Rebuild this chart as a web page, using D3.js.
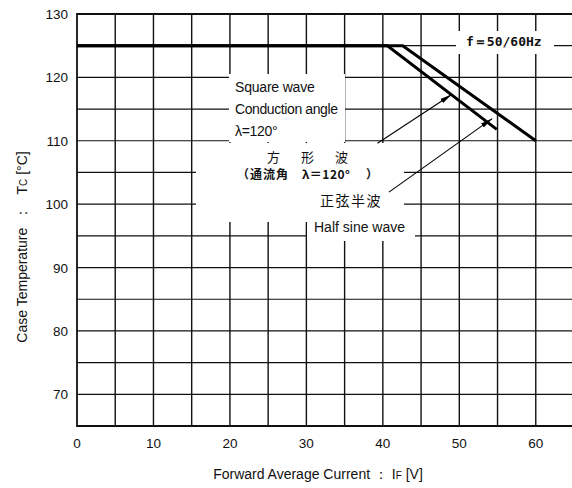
<!DOCTYPE html>
<html>
<head>
<meta charset="utf-8">
<script src="https://cdn.jsdelivr.net/npm/d3@7"></script>
<style>
  body { margin: 0; background: #fff; }
  svg text { font-family: "Liberation Sans", Arial, sans-serif; fill: #111; }
</style>
</head>
<body>
<div id="chart"></div>
<script>
// data
const xTicks = [0, 10, 20, 30, 40, 50, 60];
const yTicks = [70, 80, 90, 100, 110, 120, 130];
const gridX = [5, 10, 15, 20, 25, 30, 35, 40, 45, 50, 55, 60];
const gridY = [70, 75, 80, 85, 90, 95, 100, 105, 110, 115, 120, 125];

const squareCurrent = [0, 40.6, 54.9];
const squareTemp = [125, 125, 111.8];
const sineCurrent = [0, 42.6, 60];
const sineTemp = [125, 125, 110];

// pointer lines from labels to curves [x1, t1, x2, t2]
const squarePointer = [39.3, 109.6, 49.0, 117.3];
const sinePointer = [40.8, 101.9, 54.3, 113.5];

const width = 572, height = 488;
const svg = d3.select("#chart").append("svg")
  .attr("width", width)
  .attr("height", height);

const x = d3.scaleLinear().domain([0, 65]).range([77, 574]);
const y = d3.scaleLinear().domain([65, 130]).range([426, 14]);

// grid
svg.append("g").selectAll("line")
  .data(gridX)
  .enter().append("line")
  .attr("x1", d => x(d)).attr("x2", d => x(d))
  .attr("y1", y(130)).attr("y2", y(65))
  .attr("stroke", "#111").attr("stroke-width", 1.4);

svg.append("g").selectAll("line")
  .data(gridY)
  .enter().append("line")
  .attr("x1", x(0)).attr("x2", width)
  .attr("y1", d => y(d)).attr("y2", d => y(d))
  .attr("stroke", "#111").attr("stroke-width", 1.2);

// frame
svg.append("path")
  .attr("d", `M${width},${y(130)}H${x(0)}V${y(65)}H${width}`)
  .attr("fill", "none").attr("stroke", "#111").attr("stroke-width", 1.8);

// white patches behind the annotations (as in the scan)
const patches = [
  [229, 74, 116, 68],
  [196, 143, 208, 79],
  [307, 210, 108, 31],
  [456, 31, 98, 23]
];
svg.append("g").selectAll("rect")
  .data(patches)
  .enter().append("rect")
  .attr("x", d => d[0]).attr("y", d => d[1])
  .attr("width", d => d[2]).attr("height", d => d[3])
  .attr("fill", "#fff");

// curves
const line = d3.line().x(d => x(d[0])).y(d => y(d[1]));
svg.append("path")
  .attr("d", line(squareCurrent.map((c, i) => [c, squareTemp[i]])))
  .attr("fill", "none").attr("stroke", "#000").attr("stroke-width", 3);
svg.append("path")
  .attr("d", line(sineCurrent.map((c, i) => [c, sineTemp[i]])))
  .attr("fill", "none").attr("stroke", "#000").attr("stroke-width", 3);

// arrow marker
svg.append("defs").append("marker")
  .attr("id", "arr")
  .attr("viewBox", "0 0 12 6")
  .attr("refX", 12).attr("refY", 3)
  .attr("markerWidth", 12).attr("markerHeight", 6)
  .attr("markerUnits", "userSpaceOnUse")
  .attr("orient", "auto")
  .append("path")
  .attr("d", "M0,0.5L12,3L0,5.5Z")
  .attr("fill", "#000");

[squarePointer, sinePointer].forEach(p => {
  svg.append("line")
    .attr("x1", x(p[0])).attr("y1", y(p[1]))
    .attr("x2", x(p[2])).attr("y2", y(p[3]))
    .attr("stroke", "#000").attr("stroke-width", 1.1)
    .attr("marker-end", "url(#arr)");
});

// tick labels
svg.append("g").selectAll("text")
  .data(xTicks)
  .enter().append("text")
  .attr("x", d => x(d)).attr("y", 448)
  .attr("text-anchor", "middle")
  .attr("font-size", 13.5)
  .text(d => d);

svg.append("g").selectAll("text")
  .data(yTicks)
  .enter().append("text")
  .attr("x", 68).attr("y", d => y(d) + 5)
  .attr("text-anchor", "end")
  .attr("font-size", 13.5)
  .text(d => d);

// axis titles
const xt = svg.append("text")
  .attr("x", 318).attr("y", 479)
  .attr("text-anchor", "middle")
  .attr("font-size", 14);
xt.append("tspan").text("Forward Average Current ： I");
xt.append("tspan").attr("font-size", 10).text("F");
xt.append("tspan").text(" [V]");

const yt = svg.append("text")
  .attr("transform", "translate(27,247) rotate(-90)")
  .attr("text-anchor", "middle")
  .attr("font-size", 14)
  .attr("xml:space", "preserve");
yt.append("tspan").text("Case Temperature  ：   T");
yt.append("tspan").attr("font-size", 10).text("C");
yt.append("tspan").text(" [°C]");

// annotations
const note = (t, px, py, opts = {}) => svg.append("text")
  .attr("x", px).attr("y", py)
  .attr("font-size", opts.size || 14)
  .attr("font-weight", opts.weight || "normal")
  .attr("letter-spacing", opts.ls || 0)
  .style("font-family", opts.family || null)
  .text(t);

note("Square wave", 235, 92, { ls: -0.2 });
note("Conduction angle", 235, 114, { ls: -0.4 });
note("λ=120°", 235, 136, { ls: -0.3 });

const jp = '"Noto Sans CJK JP", sans-serif';
note("方　形　波", 267, 162, { size: 13, family: jp, ls: 4 });
note("（通流角", 237, 179, { size: 12, weight: "bold", family: jp, ls: 1 });
note("λ＝120°", 302, 179, { size: 12, weight: "bold", family: jp, ls: 0.5 });
note("）", 366, 179, { size: 12, weight: "bold", family: jp });
note("正弦半波", 320, 206, { size: 14, family: jp, ls: 1.5 });
note("Half sine wave", 314, 232, { size: 14 });
note("f＝50/60Hz", 466, 46, { size: 13, weight: "bold", family: '"DejaVu Sans Mono", monospace' });
</script>
</body>
</html>
